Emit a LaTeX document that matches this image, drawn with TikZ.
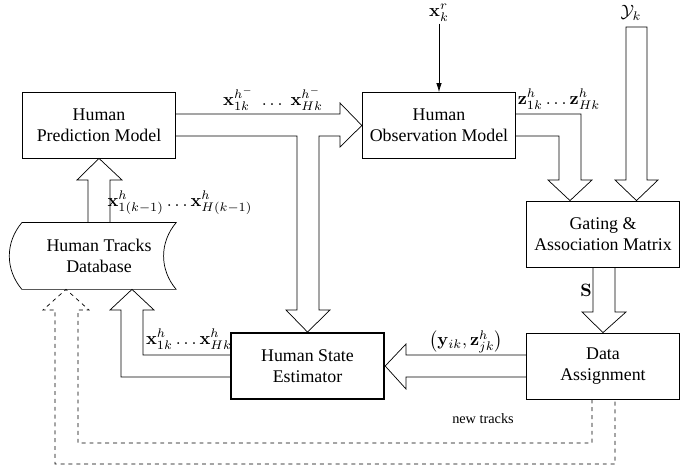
\documentclass[tikz,border=0pt]{standalone}
\usepackage[no-math]{fontspec}
\setmainfont{Liberation Serif}
\usetikzlibrary{arrows.meta}

\begin{document}
\begin{tikzpicture}[
    x=0.56pt, y=-0.56pt,
    block/.style={draw, align=center, minimum width=86pt, minimum height=37pt, inner sep=2pt},
    big-arrow/.style={draw, line join=miter},
    lbl/.style={inner sep=1pt}
]
    \useasboundingbox (0,0) rectangle (699,471);

    % Processing blocks
    \node[block] (pred)   at (99,125)    {Human\\Prediction Model};
    \node[block] (obs)    at (439,125.5) {Human\\Observation Model};
    \node[block] (gate)   at (603,234)   {Gating \&\\Association Matrix};
    \node[block] (assign) at (603,366)   {Data\\Assignment};
    \node[block, line width=1pt] (est) at (307.5,366) {Human State\\Estimator};

    % Track storage (drawn by hand, curved sides)
    \node[align=center, minimum width=86pt, minimum height=37pt] (db) at (99,256) {Human Tracks\\Database};
    \draw (db.north west) -- (db.north east) to[bend right=40] (db.south east)
        -- (db.south west) to[bend left=40] (db.north west);

    % Signal labels
    \node[lbl] (x-prev) at (180,203) {$\mathbf{x}^h_{1(k-1)}\ldots\mathbf{x}^h_{H(k-1)}$};
    \node[lbl] (x-pred) at (273,99)  {$\mathbf{x}^{h^-}_{1k}\;\ldots\;\mathbf{x}^{h^-}_{Hk}$};
    \node[lbl] (z-obs)  at (559,99)  {$\mathbf{z}^h_{1k}\ldots\mathbf{z}^h_{Hk}$};
    \node[lbl] (xr)     at (439,13)  {$\mathbf{x}^r_k$};
    \node[lbl] (yk)     at (631,13)  {$\mathcal{Y}_k$};
    \node[lbl] (s-lbl)  at (586,290) {$\mathbf{S}$};
    \node[lbl] (pairs)  at (466,342) {$\bigl(\mathbf{y}_{ik},\mathbf{z}^h_{jk}\bigr)$};
    \node[lbl] (x-est)  at (189,339) {$\mathbf{x}^h_{1k}\ldots\mathbf{x}^h_{Hk}$};
    \node[lbl, font=\footnotesize] (new) at (483,419) {new tracks};

    % Robot state input
    \draw[-{Latex[length=5pt, width=3pt]}] (xr) -- (obs.north);

    % Database -> prediction
    \draw[big-arrow] (db.north -| 88,0) -- (88,180) -- (77,180) -- (pred.south)
        -- (122,180) -- (110,180) -- (db.north -| 110,0);

    % Prediction -> observation, with branch down to the estimator
    \draw[big-arrow] (pred.east |- 0,114) -- (340,114) -- (340,103) -- (obs.west)
        -- (340,147) -- (340,136) -- (319,136) -- (319,310) -- (330,310) -- (est.north)
        -- (286,310) -- (297,310) -- (297,136) -- (pred.east |- 0,136);

    % Observation -> gating
    \draw[big-arrow] (obs.east |- 0,114) -- (581,114) -- (581,180) -- (592,180)
        -- (gate.north -| 570,0) -- (548,180) -- (559,180) -- (559,136) -- (obs.east |- 0,136);

    % Measurements -> gating
    \draw[big-arrow] (626,180) -- (626,27) -- (647,27) -- (647,180) -- (658,180)
        -- (gate.north -| 636.5,0) -- (615,180) -- cycle;

    % Gating -> assignment
    \draw[big-arrow] (gate.south -| 593,0) -- (593,312) -- (582,312) -- (assign.north)
        -- (626,312) -- (615,312) -- (gate.south -| 615,0);

    % Assignment -> estimator
    \draw[big-arrow] (assign.west |- 0,355) -- (406,355) -- (406,344) -- (est.east)
        -- (406,389) -- (406,377) -- (assign.west |- 0,377);

    % Estimator -> database
    \draw[big-arrow] (est.west |- 0,355) -- (143,355) -- (143,310) -- (154,310)
        -- (db.south -| 132,0) -- (110,310) -- (121,310) -- (121,377) -- (est.west |- 0,377);

    % New tracks back into the database
    \draw[big-arrow, dash pattern=on 2.2pt off 2.2pt] (assign.south -| 592,0) -- (592,443)
        -- (78,443) -- (78,310) -- (89,310) -- (db.south -| 66,0) -- (43,310) -- (55,310)
        -- (55,464) -- (615,464) -- (assign.south -| 615,0);
\end{tikzpicture}
\end{document}
